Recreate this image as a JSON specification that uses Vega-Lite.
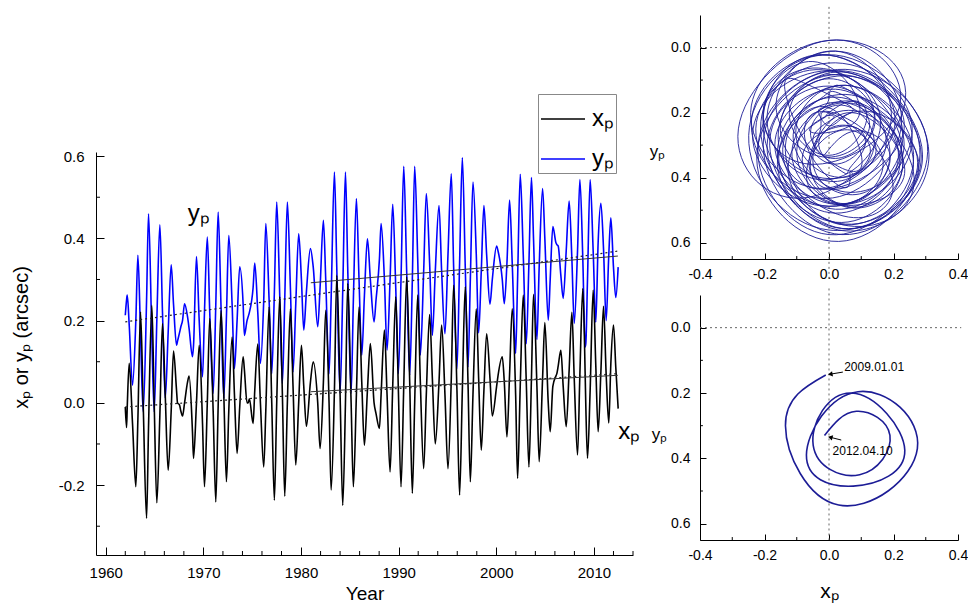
{
  "$schema": "https://vega.github.io/schema/vega-lite/v6.json",
  "padding": {"left": 11, "top": 6, "right": 0, "bottom": 0},
  "config": {
    "view": {"stroke": null},
    "font": "Liberation Sans",
    "axis": {"grid": false, "domainColor": "#000", "tickColor": "#000", "labelColor": "#000", "titleColor": "#000", "titleFontWeight": "normal", "labelFont": "Liberation Sans", "titleFont": "Liberation Sans", "labelFlush": false, "labelOverlap": false}
  },
  "datasets": {
    "pm": [
      {"t":1962.00,"x":-0.010,"y":0.213},{"t":1962.13,"x":-0.060,"y":0.250},{"t":1962.20,"x":-0.010,"y":0.262},{"t":1962.40,"x":0.096,"y":0.190},
      {"t":1962.74,"x":-0.050,"y":0.043},{"t":1963.08,"x":-0.204,"y":0.200},{"t":1963.29,"x":-0.040,"y":0.359},{"t":1963.56,"x":0.221,"y":0.170},
      {"t":1963.83,"x":0.000,"y":-0.022},{"t":1964.18,"x":-0.281,"y":0.250},{"t":1964.38,"x":-0.060,"y":0.460},{"t":1964.72,"x":0.237,"y":0.160},
      {"t":1964.96,"x":0.000,"y":-0.022},{"t":1965.23,"x":-0.243,"y":0.200},{"t":1965.54,"x":-0.030,"y":0.433},{"t":1965.81,"x":0.193,"y":0.220},
      {"t":1966.09,"x":0.020,"y":0.011},{"t":1966.39,"x":-0.164,"y":0.170},{"t":1966.70,"x":-0.020,"y":0.336},{"t":1966.94,"x":0.126,"y":0.240},
      {"t":1967.25,"x":0.030,"y":0.140},{"t":1967.35,"x":0.000,"y":0.150},{"t":1967.55,"x":-0.005,"y":0.170},{"t":1967.69,"x":-0.020,"y":0.185},
      {"t":1967.86,"x":-0.032,"y":0.200},{"t":1968.07,"x":0.000,"y":0.241},{"t":1968.37,"x":0.050,"y":0.210},{"t":1968.54,"x":0.065,"y":0.180},
      {"t":1968.88,"x":-0.070,"y":0.112},{"t":1968.99,"x":-0.135,"y":0.140},{"t":1969.29,"x":0.000,"y":0.356},{"t":1969.57,"x":0.140,"y":0.200},
      {"t":1969.91,"x":-0.050,"y":0.063},{"t":1970.11,"x":-0.204,"y":0.220},{"t":1970.40,"x":0.000,"y":0.403},{"t":1970.65,"x":0.205,"y":0.220},
      {"t":1971.00,"x":-0.020,"y":0.023},{"t":1971.27,"x":-0.241,"y":0.240},{"t":1971.51,"x":-0.010,"y":0.464},{"t":1971.81,"x":0.225,"y":0.230},
      {"t":1972.09,"x":0.020,"y":0.011},{"t":1972.36,"x":-0.192,"y":0.210},{"t":1972.60,"x":-0.020,"y":0.407},{"t":1972.94,"x":0.160,"y":0.240},
      {"t":1973.18,"x":0.020,"y":0.083},{"t":1973.45,"x":-0.123,"y":0.200},{"t":1973.72,"x":-0.010,"y":0.331},{"t":1974.07,"x":0.112,"y":0.240},
      {"t":1974.20,"x":0.080,"y":0.164},{"t":1974.47,"x":0.000,"y":0.200},{"t":1974.58,"x":0.000,"y":0.209},{"t":1974.71,"x":0.010,"y":0.220},
      {"t":1975.09,"x":-0.050,"y":0.280},{"t":1975.26,"x":0.030,"y":0.340},{"t":1975.57,"x":0.143,"y":0.220},{"t":1975.84,"x":0.000,"y":0.096},
      {"t":1976.18,"x":-0.156,"y":0.250},{"t":1976.39,"x":-0.020,"y":0.436},{"t":1976.73,"x":0.233,"y":0.250},{"t":1977.00,"x":0.000,"y":0.071},
      {"t":1977.27,"x":-0.237,"y":0.270},{"t":1977.51,"x":0.000,"y":0.488},{"t":1977.82,"x":0.258,"y":0.260},{"t":1978.09,"x":0.020,"y":0.047},
      {"t":1978.33,"x":-0.227,"y":0.250},{"t":1978.60,"x":0.000,"y":0.488},{"t":1978.91,"x":0.229,"y":0.280},{"t":1979.18,"x":0.040,"y":0.075},
      {"t":1979.46,"x":-0.151,"y":0.240},{"t":1979.76,"x":0.000,"y":0.411},{"t":1980.04,"x":0.140,"y":0.300},{"t":1980.28,"x":0.040,"y":0.177},
      {"t":1980.55,"x":-0.057,"y":0.270},{"t":1980.96,"x":0.050,"y":0.375},{"t":1981.25,"x":0.100,"y":0.330},{"t":1981.71,"x":0.000,"y":0.185},
      {"t":1981.95,"x":-0.111,"y":0.280},{"t":1982.29,"x":0.050,"y":0.444},{"t":1982.53,"x":0.225,"y":0.300},{"t":1982.87,"x":0.000,"y":0.071},
      {"t":1983.08,"x":-0.212,"y":0.250},{"t":1983.42,"x":0.030,"y":0.561},{"t":1983.66,"x":0.310,"y":0.330},{"t":1984.00,"x":0.020,"y":0.023},
      {"t":1984.27,"x":-0.249,"y":0.270},{"t":1984.55,"x":0.000,"y":0.561},{"t":1984.78,"x":0.290,"y":0.330},{"t":1985.13,"x":0.000,"y":0.023},
      {"t":1985.36,"x":-0.204,"y":0.250},{"t":1985.67,"x":0.020,"y":0.497},{"t":1985.94,"x":0.233,"y":0.300},{"t":1986.22,"x":0.050,"y":0.116},
      {"t":1986.49,"x":-0.103,"y":0.260},{"t":1986.80,"x":0.030,"y":0.399},{"t":1987.10,"x":0.144,"y":0.300},{"t":1987.48,"x":0.000,"y":0.197},
      {"t":1987.68,"x":-0.026,"y":0.250},{"t":1988.03,"x":-0.062,"y":0.350},{"t":1988.20,"x":0.020,"y":0.436},{"t":1988.54,"x":0.177,"y":0.300},
      {"t":1988.81,"x":0.020,"y":0.128},{"t":1989.12,"x":-0.168,"y":0.300},{"t":1989.39,"x":0.040,"y":0.483},{"t":1989.70,"x":0.258,"y":0.280},
      {"t":1989.97,"x":0.030,"y":0.071},{"t":1990.24,"x":-0.204,"y":0.300},{"t":1990.52,"x":0.040,"y":0.575},{"t":1990.82,"x":0.306,"y":0.320},
      {"t":1991.13,"x":0.050,"y":0.067},{"t":1991.40,"x":-0.220,"y":0.300},{"t":1991.64,"x":0.000,"y":0.575},{"t":1991.95,"x":0.262,"y":0.350},
      {"t":1992.22,"x":0.050,"y":0.116},{"t":1992.56,"x":-0.160,"y":0.320},{"t":1992.83,"x":0.020,"y":0.509},{"t":1993.17,"x":0.215,"y":0.340},
      {"t":1993.45,"x":0.060,"y":0.164},{"t":1993.75,"x":-0.100,"y":0.320},{"t":1994.13,"x":0.050,"y":0.480},{"t":1994.40,"x":0.189,"y":0.320},
      {"t":1994.74,"x":0.020,"y":0.168},{"t":1995.05,"x":-0.160,"y":0.360},{"t":1995.39,"x":0.060,"y":0.557},{"t":1995.63,"x":0.286,"y":0.330},
      {"t":1995.97,"x":0.030,"y":0.083},{"t":1996.24,"x":-0.224,"y":0.340},{"t":1996.52,"x":0.030,"y":0.596},{"t":1996.82,"x":0.282,"y":0.330},
      {"t":1997.10,"x":0.050,"y":0.087},{"t":1997.34,"x":-0.192,"y":0.300},{"t":1997.61,"x":0.020,"y":0.537},{"t":1997.95,"x":0.229,"y":0.360},
      {"t":1998.19,"x":0.060,"y":0.170},{"t":1998.46,"x":-0.115,"y":0.320},{"t":1998.73,"x":0.030,"y":0.480},{"t":1999.01,"x":0.168,"y":0.360},
      {"t":1999.35,"x":0.060,"y":0.240},{"t":1999.59,"x":-0.032,"y":0.300},{"t":2000.03,"x":0.040,"y":0.381},{"t":2000.17,"x":0.065,"y":0.370},
      {"t":2000.61,"x":0.112,"y":0.300},{"t":2000.82,"x":0.050,"y":0.241},{"t":2001.09,"x":-0.083,"y":0.340},{"t":2001.36,"x":0.070,"y":0.493},
      {"t":2001.63,"x":0.229,"y":0.340},{"t":2001.98,"x":0.020,"y":0.120},{"t":2002.18,"x":-0.184,"y":0.300},{"t":2002.45,"x":0.040,"y":0.556},
      {"t":2002.76,"x":0.262,"y":0.360},{"t":2003.07,"x":0.050,"y":0.144},{"t":2003.34,"x":-0.156,"y":0.340},{"t":2003.60,"x":0.060,"y":0.548},
      {"t":2003.81,"x":0.264,"y":0.400},{"t":2004.16,"x":0.040,"y":0.154},{"t":2004.39,"x":-0.143,"y":0.330},{"t":2004.74,"x":0.060,"y":0.521},
      {"t":2004.97,"x":0.195,"y":0.400},{"t":2005.32,"x":0.000,"y":0.201},{"t":2005.52,"x":-0.070,"y":0.300},{"t":2005.79,"x":0.040,"y":0.429},
      {"t":2006.10,"x":0.065,"y":0.390},{"t":2006.20,"x":0.071,"y":0.385},{"t":2006.34,"x":0.090,"y":0.381},{"t":2006.61,"x":0.128,"y":0.310},
      {"t":2006.85,"x":0.040,"y":0.254},{"t":2007.16,"x":-0.058,"y":0.370},{"t":2007.46,"x":0.080,"y":0.491},{"t":2007.74,"x":0.220,"y":0.350},
      {"t":2007.98,"x":0.060,"y":0.193},{"t":2008.32,"x":-0.127,"y":0.370},{"t":2008.56,"x":0.070,"y":0.543},{"t":2008.86,"x":0.278,"y":0.350},
      {"t":2009.10,"x":0.070,"y":0.136},{"t":2009.17,"x":-0.010,"y":0.145},{"t":2009.34,"x":-0.135,"y":0.300},{"t":2009.61,"x":0.030,"y":0.543},
      {"t":2009.92,"x":0.274,"y":0.370},{"t":2010.19,"x":0.090,"y":0.196},{"t":2010.43,"x":-0.070,"y":0.390},{"t":2010.71,"x":0.075,"y":0.485},
      {"t":2010.98,"x":0.235,"y":0.375},{"t":2011.25,"x":0.070,"y":0.200},{"t":2011.52,"x":-0.049,"y":0.360},{"t":2011.73,"x":0.095,"y":0.450},
      {"t":2012.00,"x":0.189,"y":0.330},{"t":2012.24,"x":0.085,"y":0.256},{"t":2012.48,"x":-0.014,"y":0.330}
    ],
    "trend": [
      {"s":"y","k":"all","t":1962.0,"v":0.197},{"s":"y","k":"all","t":2012.45,"v":0.369},
      {"s":"y","k":"late","t":1981.0,"v":0.292},{"s":"y","k":"late","t":2012.45,"v":0.357},
      {"s":"x","k":"all","t":1962.0,"v":-0.010},{"s":"x","k":"all","t":2012.45,"v":0.071},
      {"s":"x","k":"late","t":1981.0,"v":0.027},{"s":"x","k":"late","t":2012.45,"v":0.067}
    ],
    "minorYears": [
      {"m":1962},{"m":1964},{"m":1966},{"m":1968},{"m":1972},{"m":1974},{"m":1976},{"m":1978},{"m":1982},{"m":1984},{"m":1986},{"m":1988},
      {"m":1992},{"m":1994},{"m":1996},{"m":1998},{"m":2002},{"m":2004},{"m":2006},{"m":2008},{"m":2012},{"m":2014}
    ],
    "minorLeftY": [{"m":-0.3},{"m":-0.1},{"m":0.1},{"m":0.3},{"m":0.5}],
    "minorPX": [{"m":-0.3},{"m":-0.1},{"m":0.1},{"m":0.3}],
    "minorPY": [{"m":0.1},{"m":0.3},{"m":0.5}]
  },
  "spacing": 8,
  "hconcat": [
    {
      "spacing": 0,
      "vconcat": [
        {"width": 537, "height": 134, "data": {"values": [{}]}, "mark": {"type": "text", "text": ""}},
        {
          "width": 537,
          "height": 403,
          "layer": [
            {
              "data": {"name": "pm"},
              "mark": {"type": "line", "interpolate": "monotone", "strokeWidth": 1.6},
              "encoding": {
                "x": {"field": "t", "type": "quantitative", "scale": {"domain": [1959, 2014], "nice": false, "zero": false},
                  "axis": {"title": "Year", "titleFontSize": 19, "titleX": 268.5, "titleY": 29, "titleBaseline": "top", "titleAlign": "center",
                    "values": [1960,1970,1980,1990,2000,2010],
                    "format": "d", "labelFontSize": 15, "labelPadding": 18, "labelOverlap": false, "labelFlush": false, "tickSize": -8}},
                "y": {"field": "y", "type": "quantitative", "scale": {"domain": [-0.37, 0.61], "nice": false, "zero": false},
                  "axis": {"title": "xₚ or yₚ (arcsec)", "titleFontSize": 20, "titleX": -75, "titleY": 185, "titleAngle": 270, "titleBaseline": "middle", "titleAlign": "center",
                    "values": [-0.2,0,0.2,0.4,0.6],
                    "labelExpr": "replace(format(datum.value, '.1f'), '\u2212', '-')", "labelFontSize": 15, "labelPadding": 20, "labelOverlap": false, "labelFlush": false, "tickSize": -8}},
                "color": {"datum": "yₚ", "type": "nominal", "scale": {"domain": ["xₚ", "yₚ"], "range": ["#000000", "#0000ff"]},
                  "legend": {"orient": "none", "legendX": 442, "legendY": 79, "title": null, "symbolType": "stroke", "symbolSize": 1936, "symbolStrokeWidth": 1.3,
                    "labelFontSize": 24, "labelFont": "Liberation Sans", "labelColor": "#000", "strokeColor": "#888", "fillColor": "#fff", "padding": 2, "rowPadding": 5, "labelOffset": 6}}
              }
            },
            {
              "data": {"name": "pm"},
              "mark": {"type": "line", "interpolate": "monotone", "strokeWidth": 1.6},
              "encoding": {
                "x": {"field": "t", "type": "quantitative"},
                "y": {"field": "x", "type": "quantitative"},
                "color": {"datum": "xₚ", "type": "nominal"}
              }
            },
            {
              "data": {"name": "trend"},
              "transform": [{"filter": "datum.k === 'all'"}],
              "mark": {"type": "line", "strokeDash": [2, 3], "strokeWidth": 1.2, "color": "#222"},
              "encoding": {
                "x": {"field": "t", "type": "quantitative"},
                "y": {"field": "v", "type": "quantitative"},
                "detail": {"field": "s"}
              }
            },
            {
              "data": {"name": "trend"},
              "transform": [{"filter": "datum.k === 'late'"}],
              "mark": {"type": "line", "strokeWidth": 1, "color": "#333"},
              "encoding": {
                "x": {"field": "t", "type": "quantitative"},
                "y": {"field": "v", "type": "quantitative"},
                "detail": {"field": "s"}
              }
            },
            {
              "data": {"name": "minorYears"},
              "mark": {"type": "rule", "color": "#000", "strokeWidth": 1},
              "encoding": {
                "x": {"field": "m", "type": "quantitative"},
                "y": {"datum": -0.37, "type": "quantitative"},
                "y2": {"datum": -0.3603}
              }
            },
            {
              "data": {"name": "minorLeftY"},
              "mark": {"type": "rule", "color": "#000", "strokeWidth": 1},
              "encoding": {
                "y": {"field": "m", "type": "quantitative"},
                "x": {"datum": 1959, "type": "quantitative"},
                "x2": {"datum": 1959.41}
              }
            },
            {
              "data": {"values": [{"t": 1968.4, "v": 0.46, "label": "yₚ"}, {"t": 2012.5, "v": -0.072, "label": "xₚ"}]},
              "mark": {"type": "text", "fontSize": 24, "align": "left", "baseline": "middle", "color": "#000"},
              "encoding": {
                "x": {"field": "t", "type": "quantitative"},
                "y": {"field": "v", "type": "quantitative"},
                "text": {"field": "label"}
              }
            }
          ]
        }
      ]
    },
    {
      "spacing": 4,
      "vconcat": [
        {
          "width": 258,
          "height": 244,
          "layer": [
            {
              "data": {"values": [{"x": 0, "y": -0.125, "y2": 0.72}]},
              "mark": {"type": "rule", "strokeDash": [2, 3], "color": "#666", "strokeWidth": 1},
              "encoding": {
                "x": {"field": "x", "type": "quantitative", "scale": {"domain": [-0.4, 0.4], "nice": false, "zero": false},
                  "axis": {"title": null, "values": [-0.4,-0.2,0,0.2,0.4],
                    "labelExpr": "replace(format(datum.value, '.1f'), '\u2212', '-')", "labelFontSize": 14, "labelPadding": 14, "labelOverlap": false, "labelFlush": false, "tickSize": -6}},
                "y": {"field": "y", "type": "quantitative", "scale": {"domain": [-0.1, 0.65], "nice": false, "zero": false, "reverse": true},
                  "axis": {"title": "yₚ", "titleFontSize": 17, "titleAngle": 0, "titleX": -43, "titleY": 136, "titleAlign": "center", "titleBaseline": "middle",
                    "values": [0,0.2,0.4,0.6],
                    "labelExpr": "replace(format(datum.value, '.1f'), '\u2212', '-')", "labelFontSize": 14, "labelPadding": 16, "labelOverlap": false, "labelFlush": false, "tickSize": -6}},
                "y2": {"field": "y2"}
              }
            },
            {
              "data": {"values": [{"x": -0.4, "x2": 0.41, "y": 0}]},
              "mark": {"type": "rule", "strokeDash": [2, 3], "color": "#666", "strokeWidth": 1},
              "encoding": {
                "x": {"field": "x", "type": "quantitative"},
                "x2": {"field": "x2"},
                "y": {"field": "y", "type": "quantitative"}
              }
            },
            {
              "data": {"name": "minorPX"},
              "mark": {"type": "rule", "color": "#000", "strokeWidth": 1},
              "encoding": {
                "x": {"field": "m", "type": "quantitative"},
                "y": {"datum": 0.65, "type": "quantitative"},
                "y2": {"datum": 0.641}
              }
            },
            {
              "data": {"name": "minorPY"},
              "mark": {"type": "rule", "color": "#000", "strokeWidth": 1},
              "encoding": {
                "y": {"field": "m", "type": "quantitative"},
                "x": {"datum": -0.4, "type": "quantitative"},
                "x2": {"datum": -0.391}
              }
            },
            {
              "data": {"name": "pm"},
              "mark": {"type": "line", "interpolate": "natural", "strokeWidth": 0.9, "color": "#1c1c96"},
              "encoding": {
                "x": {"field": "x", "type": "quantitative"},
                "y": {"field": "y", "type": "quantitative"},
                "order": {"field": "t", "type": "quantitative"}
              }
            }
          ]
        },
        {
          "width": 258,
          "height": 245,
          "layer": [
            {
              "data": {"values": [{"x": 0, "y": -0.12, "y2": 0.65}]},
              "mark": {"type": "rule", "strokeDash": [2, 3], "color": "#666", "strokeWidth": 1},
              "encoding": {
                "x": {"field": "x", "type": "quantitative", "scale": {"domain": [-0.4, 0.4], "nice": false, "zero": false},
                  "axis": {"title": "xₚ", "titleFontSize": 21, "titleX": 129, "titleY": 51, "titleBaseline": "middle", "titleAlign": "center",
                    "values": [-0.4,-0.2,0,0.2,0.4],
                    "labelExpr": "replace(format(datum.value, '.1f'), '\u2212', '-')", "labelFontSize": 14, "labelPadding": 14, "labelOverlap": false, "labelFlush": false, "tickSize": -6}},
                "y": {"field": "y", "type": "quantitative", "scale": {"domain": [-0.1, 0.65], "nice": false, "zero": false, "reverse": true},
                  "axis": {"title": "yₚ", "titleFontSize": 17, "titleAngle": 0, "titleX": -41, "titleY": 139, "titleAlign": "center", "titleBaseline": "middle",
                    "values": [0,0.2,0.4,0.6],
                    "labelExpr": "replace(format(datum.value, '.1f'), '\u2212', '-')", "labelFontSize": 14, "labelPadding": 16, "labelOverlap": false, "labelFlush": false, "tickSize": -6}},
                "y2": {"field": "y2"}
              }
            },
            {
              "data": {"values": [{"x": -0.4, "x2": 0.41, "y": 0}]},
              "mark": {"type": "rule", "strokeDash": [2, 3], "color": "#666", "strokeWidth": 1},
              "encoding": {
                "x": {"field": "x", "type": "quantitative"},
                "x2": {"field": "x2"},
                "y": {"field": "y", "type": "quantitative"}
              }
            },
            {
              "data": {"name": "minorPX"},
              "mark": {"type": "rule", "color": "#000", "strokeWidth": 1},
              "encoding": {
                "x": {"field": "m", "type": "quantitative"},
                "y": {"datum": 0.65, "type": "quantitative"},
                "y2": {"datum": 0.641}
              }
            },
            {
              "data": {"name": "minorPY"},
              "mark": {"type": "rule", "color": "#000", "strokeWidth": 1},
              "encoding": {
                "y": {"field": "m", "type": "quantitative"},
                "x": {"datum": -0.4, "type": "quantitative"},
                "x2": {"datum": -0.391}
              }
            },
            {
              "data": {"name": "pm"},
              "transform": [{"filter": "datum.t >= 2009.15"}],
              "mark": {"type": "line", "interpolate": "natural", "strokeWidth": 1.6, "color": "#1c1c96"},
              "encoding": {
                "x": {"field": "x", "type": "quantitative"},
                "y": {"field": "y", "type": "quantitative"},
                "order": {"field": "t", "type": "quantitative"}
              }
            },
            {
              "data": {"values": [{"x": 0.043, "y": 0.136, "x2": 0.006, "y2": 0.142}, {"x": 0.038, "y": 0.344, "x2": 0.006, "y2": 0.336}]},
              "mark": {"type": "rule", "color": "#000", "strokeWidth": 1},
              "encoding": {
                "x": {"field": "x", "type": "quantitative"},
                "x2": {"field": "x2"},
                "y": {"field": "y", "type": "quantitative"},
                "y2": {"field": "y2"}
              }
            },
            {
              "data": {"values": [{"x": 0.004, "y": 0.1425, "a": -10}, {"x": 0.004, "y": 0.3355, "a": 15}]},
              "mark": {"type": "point", "shape": "triangle-left", "filled": true, "color": "#000", "size": 28, "opacity": 1},
              "encoding": {
                "x": {"field": "x", "type": "quantitative"},
                "y": {"field": "y", "type": "quantitative"},
                "angle": {"field": "a", "type": "quantitative", "scale": null}
              }
            },
            {
              "data": {"values": [{"x": 0.047, "y": 0.12, "label": "2009.01.01"}, {"x": 0.011, "y": 0.378, "label": "2012.04.10"}]},
              "mark": {"type": "text", "fontSize": 12, "align": "left", "baseline": "middle", "color": "#000"},
              "encoding": {
                "x": {"field": "x", "type": "quantitative"},
                "y": {"field": "y", "type": "quantitative"},
                "text": {"field": "label"}
              }
            }
          ]
        }
      ]
    }
  ]
}
